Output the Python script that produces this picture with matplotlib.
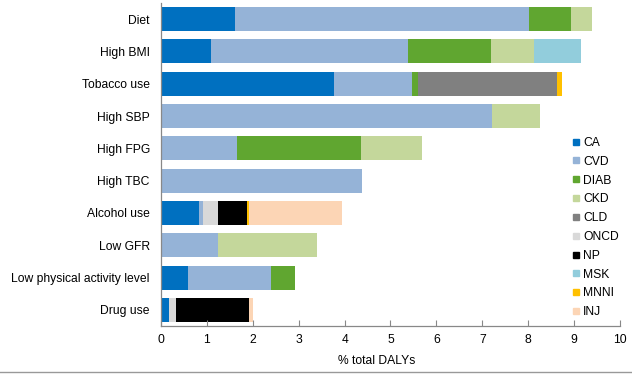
import matplotlib.pyplot as plt
from matplotlib.lines import Line2D
import numpy as np

plt.rcParams['font.family'] = ['Liberation Sans', 'DejaVu Sans']

# ------------ data --------------------- #
risk_factors = ['Diet', 'High BMI', 'Tobacco use', 'High SBP', 'High FPG', 'High TBC',
                'Alcohol use', 'Low GFR', 'Low physical activity level', 'Drug use']
diseases = ['CA', 'CVD', 'DIAB', 'CKD', 'CLD', 'ONCD', 'NP', 'MSK', 'MNNI', 'INJ']

# % of total DALYs, one list per disease group (same order as risk_factors)
CA   = [1.61, 1.10, 3.77, 0.00, 0.00, 0.00, 0.82, 0.00, 0.58, 0.17]
CVD  = [6.41, 4.29, 1.70, 7.21, 1.65, 4.39, 0.09, 1.24, 1.82, 0.00]
DIAB = [0.91, 1.79, 0.14, 0.00, 2.71, 0.00, 0.00, 0.00, 0.53, 0.00]
CKD  = [0.47, 0.95, 0.00, 1.04, 1.33, 0.00, 0.00, 2.17, 0.00, 0.00]
CLD  = [0.00, 0.00, 3.01, 0.00, 0.00, 0.00, 0.00, 0.00, 0.00, 0.00]
ONCD = [0.00, 0.00, 0.00, 0.00, 0.00, 0.00, 0.33, 0.00, 0.00, 0.15]
NP   = [0.00, 0.00, 0.00, 0.00, 0.00, 0.00, 0.64, 0.00, 0.00, 1.60]
MSK  = [0.00, 1.02, 0.00, 0.00, 0.00, 0.00, 0.00, 0.00, 0.00, 0.00]
MNNI = [0.00, 0.00, 0.12, 0.00, 0.00, 0.00, 0.04, 0.00, 0.00, 0.00]
INJ  = [0.00, 0.00, 0.00, 0.00, 0.00, 0.00, 2.02, 0.00, 0.00, 0.08]

colours = ['#0070C0', '#95B3D7', '#60A630', '#C4D79B', '#808080',
           '#D9D9D9', '#000000', '#92CDDC', '#FFC000', '#FCD5B5']

# ------------ plot --------------------- #
fig = plt.figure(figsize=(6.32, 3.74), dpi=100)
ax = fig.add_axes([0.2547, 0.1283, 0.7263, 0.8637])

y = np.arange(len(risk_factors))
left = np.zeros(len(risk_factors))
for name, vals, c in zip(diseases, [CA, CVD, DIAB, CKD, CLD, ONCD, NP, MSK, MNNI, INJ], colours):
    vals = np.array(vals)
    ax.barh(y, vals, left=left, height=0.74, color=c, label=name, linewidth=0)
    left += vals

ax.set_ylim(len(risk_factors) - 0.5, -0.5)
ax.set_xlim(0, 10)
ax.set_xticks(np.arange(0, 11, 1))
ax.set_yticks(y)
ax.set_yticklabels(risk_factors, fontsize=8.7)
ax.tick_params(axis='y', length=0, pad=8)
ax.tick_params(axis='x', direction='in', length=4, color='#888888', labelsize=8.7, pad=6)
ax.set_xlabel('% total DALYs', fontsize=8.7)
ax.xaxis.set_label_coords(0.469, -0.09)
for s in ['top', 'right']:
    ax.spines[s].set_visible(False)
for s in ['left', 'bottom']:
    ax.spines[s].set_color('#888888')
    ax.spines[s].set_linewidth(0.9)

handles = [Line2D([], [], marker='s', ls='none', color=c, markersize=5) for c in colours]
fig.legend(handles, diseases, loc='upper left', bbox_to_anchor=(0.898, 0.647), frameon=False,
           fontsize=8.7, handlelength=0.6, handletextpad=0.3, labelspacing=0.565, borderaxespad=0)

# frame line at the bottom of the picture
fig.add_artist(Line2D([0, 1], [0.006, 0.006], transform=fig.transFigure, color='#999999', lw=1))

plt.savefig('out.png', dpi=100)
